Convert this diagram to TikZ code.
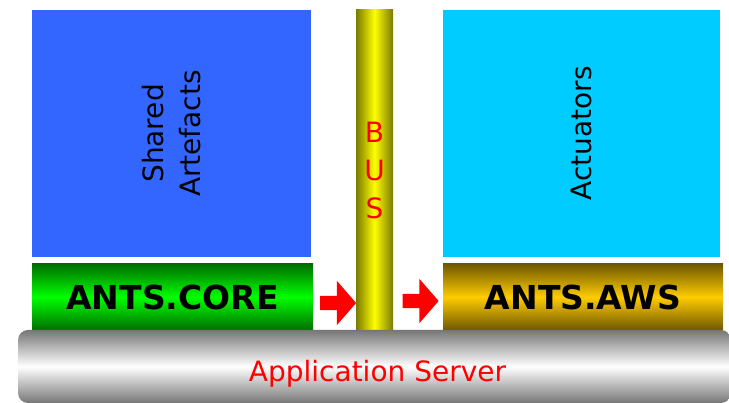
\documentclass[tikz,border=0pt]{standalone}
\usepackage{fontspec}
\setmainfont{DejaVu Sans}
\usepackage{tikz}
\usetikzlibrary{shapes.arrows}

\definecolor{sharedblue}{HTML}{3366FF}
\definecolor{actcyan}{HTML}{00CCFF}
\definecolor{busolive}{HTML}{7A7A00}
\definecolor{darkgreen}{HTML}{006E00}
\definecolor{limegreen}{HTML}{00FF00}
\definecolor{darkgold}{HTML}{6E5800}
\definecolor{gold}{HTML}{FFCC00}
\definecolor{servergray}{HTML}{767676}

\begin{document}
\begin{tikzpicture}[x=1pt,y=1pt,
	panel/.style={inner sep=0pt, outer sep=0pt, align=center, font=\fontsize{28}{37}\selectfont},
	layer/.style={inner sep=0pt, outer sep=0pt, minimum height=66pt, font=\fontsize{33}{40}\selectfont\bfseries},
	push/.style={single arrow, fill=red, inner xsep=0pt, inner ysep=7pt, single arrow head extend=15pt, single arrow tip angle=98, minimum height=36pt}]

	\useasboundingbox (0,0) rectangle (729,403);

	\node[panel, fill=sharedblue, rotate=90, minimum width=247pt, minimum height=279pt] (shared) at (171.5,269.5) {Shared\\Artefacts};
	\node[panel, fill=actcyan, rotate=90, minimum width=247pt, minimum height=277pt] (actuators) at (581.5,269.5) {Actuators};

	\node[layer, top color=darkgreen, bottom color=darkgreen, middle color=limegreen, minimum width=281pt] (core) at (172.5,106) {ANTS.CORE};
	\node[layer, top color=darkgold, bottom color=darkgold, middle color=gold, minimum width=280pt] (aws) at (583,106) {ANTS.AWS};

	\node[panel, font=\fontsize{28}{38}\selectfont, text=red, left color=busolive, right color=busolive, middle color=yellow, minimum width=37pt, minimum height=320pt] (bus) at (374.5,233) {B\\U\\S}; %vertical bus

	\node[push] (push1) at (335,100) {};
	\node[push] (push2) at (417.5,102) {};

	\node[rounded corners=10pt, top color=servergray, bottom color=servergray, middle color=white, minimum width=713pt, minimum height=73pt, inner sep=0pt] (server) at (374.5,36.5) {};
	\node[anchor=base, text=red, font=\fontsize{28}{34}\selectfont] (serverlabel) at (377.5,21) {Application Server};

\end{tikzpicture}
\end{document}
